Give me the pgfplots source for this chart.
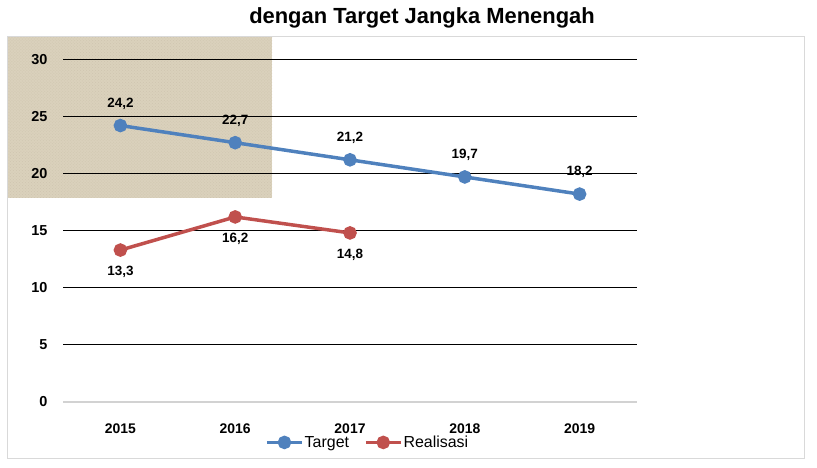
\documentclass[border=0pt]{standalone}
\usepackage{pgfplots}
\pgfplotsset{compat=1.18}
\usepackage{fontspec}
\setmainfont{Liberation Sans}
\usetikzlibrary{patterns}

\definecolor{serBlue}{RGB}{79,129,189}
\definecolor{serRed}{RGB}{192,80,77}
\definecolor{burlap}{RGB}{218,209,188}
\definecolor{burlapDark}{RGB}{200,190,166}
\definecolor{frameGray}{RGB}{217,217,217}

\begin{document}
\begin{tikzpicture}[x=1bp,y=1bp]
  \useasboundingbox (0,0) rectangle (817,468);

  % chart frame and textured patch behind the plot
  \fill[burlap] (7,270) rectangle (272,431);
  \fill[pattern=crosshatch dots, pattern color=burlapDark, opacity=0.6] (7,270) rectangle (272,431);
  \draw[frameGray, line width=1bp] (7,9) rectangle (804,431);

  % title
  \node[font=\bfseries\fontsize{22}{26}\selectfont] at (422,450) {dengan Target Jangka Menengah};

  \begin{axis}[
    at={(63bp,66bp)}, anchor=south west,
    scale only axis, width=574bp, height=342.7bp,
    xmin=-0.5, xmax=4.5, ymin=0, ymax=30,
    xtick={0,1,2,3,4},
    xticklabels={2015,2016,2017,2018,2019},
    ytick={5,10,...,30},
    extra y ticks={0},
    extra y tick style={grid=none},
    ymajorgrids,
    grid style={black, line width=1.2bp},
    major tick length=0pt,
    axis x line*=bottom, axis y line*=left,
    x axis line style={gray!35, line width=1.2bp, -},
    y axis line style={draw=none},
    /pgf/number format/assume math mode=true,
    /pgf/number format/.cd, use comma, fixed, fixed zerofill, precision=1, /pgfplots/.cd,
    yticklabel style={font=\bfseries\fontsize{14.5}{17}\selectfont, anchor=east, xshift=-12bp,
      /pgf/number format/precision=0, /pgf/number format/fixed zerofill=false},
    xticklabel style={font=\bfseries\fontsize{14}{17}\selectfont, anchor=center, yshift=-27bp},
    nodes near coords,
    every node near coord/.append style={font=\bfseries\fontsize{13.5}{16}\selectfont, anchor=center, black},
    legend columns=2,
    legend style={draw=none, fill=none, at={(axis description cs:0.53,-0.118)}, anchor=center,
      font=\fontsize{16}{19}\selectfont, inner sep=0pt,
      nodes={inner xsep=1bp},
      /tikz/every even column/.append style={column sep=14bp}},
    legend image code/.code={\draw[mark repeat=2,mark phase=2,#1] plot coordinates {(0bp,0bp) (17.5bp,0bp) (35bp,0bp)};},
    clip=false,
  ]
    \addplot[serBlue, line width=3.5bp, mark=*, mark size=5bp,
      every node near coord/.append style={yshift=22bp}]
      coordinates {(0,24.2) (1,22.7) (2,21.2) (3,19.7) (4,18.2)};
    \addlegendentry{Target}
    \addplot[serRed, line width=3.5bp, mark=*, mark size=5bp,
      every node near coord/.append style={yshift=-22bp}]
      coordinates {(0,13.3) (1,16.2) (2,14.8)};
    \addlegendentry{Realisasi}
  \end{axis}
\end{tikzpicture}
\end{document}
